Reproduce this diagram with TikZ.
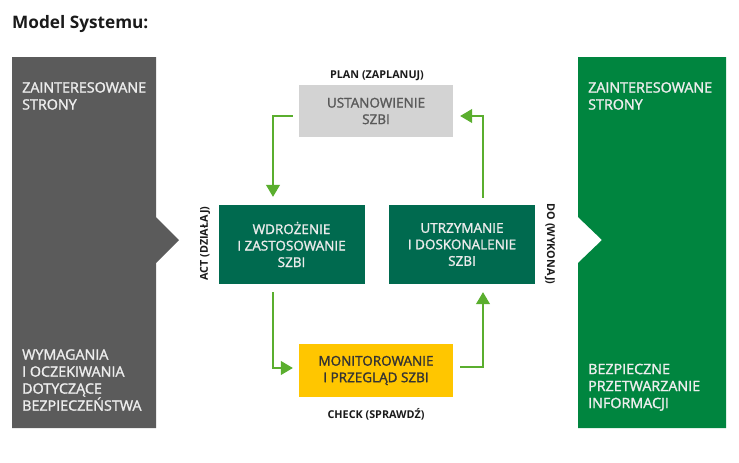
\documentclass[tikz,border=0pt]{standalone}
\usepackage{fontspec}
\setmainfont{Open Sans}
\newfontfamily\semib[FakeBold=1.6]{Open Sans}
\usetikzlibrary{arrows.meta}
\definecolor{panelgray}{HTML}{5B5B5B}
\definecolor{panelgreen}{HTML}{00853F}
\definecolor{boxgreen}{HTML}{006A4F}
\definecolor{boxgray}{HTML}{D3D3D3}
\definecolor{boxyellow}{HTML}{FFC600}
\definecolor{flowgreen}{HTML}{5AAE2E}
\definecolor{titlecol}{HTML}{1A1A1A}
\tikzset{
  paneltext/.style={text=white!93!black, align=left, inner sep=0pt, font=\semib\fontsize{14.3}{17}\selectfont},
  stepbox/.style={minimum width=146pt, minimum height=79pt, inner sep=0pt, align=center, font=\semib\fontsize{13.5}{16.5}\selectfont},
  smalllbl/.style={font=\fontsize{10.8}{12}\selectfont\bfseries, text=titlecol, inner sep=0pt},
  flow/.style={draw=flowgreen, line width=1.2pt, -{Triangle[width=14pt,length=12pt]}}
}
\begin{document}
\begin{tikzpicture}[x=1pt,y=-1pt]
\useasboundingbox (0,0) rectangle (739,463);
% title
\node[anchor=base west, inner sep=0pt, text=titlecol, font=\fontsize{17.2}{20}\selectfont\bfseries] (title) at (12,28) {Model Systemu:};
% side panels
\fill[panelgray] (12,57) -- (156,57) -- (156,217) -- (179,240) -- (156,263) -- (156,428) -- (12,428) -- cycle;
\fill[panelgreen] (578,57) -- (726,57) -- (726,428) -- (578,428) -- (578,263) -- (602,240) -- (578,217) -- cycle;
\node[paneltext, anchor=north west] (lt) at (22,82) {ZAINTERESOWANE\\STRONY};
\node[paneltext, anchor=south west] (lb) at (22,411) {WYMAGANIA\\I OCZEKIWANIA\\DOTYCZĄCE\\BEZPIECZEŃSTWA};
\node[paneltext, anchor=north west] (rt) at (588,82) {ZAINTERESOWANE\\STRONY};
\node[paneltext, anchor=south west] (rb) at (588,411) {BEZPIECZNE\\PRZETWARZANIE\\INFORMACJI};
% step boxes
\node[stepbox, fill=boxgray, text=black!65, minimum width=154pt, minimum height=52pt] (plan) at (376,111) {USTANOWIENIE\\SZBI};
\node[stepbox, fill=boxgreen, text=white!92!black] (act) at (291.5,244.5) {WDROŻENIE\\I ZASTOSOWANIE\\SZBI};
\node[stepbox, fill=boxgreen, text=white!92!black] (do) at (462,244.5) {UTRZYMANIE\\I DOSKONALENIE\\SZBI};
\node[stepbox, fill=boxyellow, text=black!80, minimum width=154pt, minimum height=53pt] (check) at (376,370.5) {MONITOROWANIE\\I PRZEGLĄD SZBI};
% labels
\node[smalllbl, anchor=base] (planlbl) at (377,78) {PLAN (ZAPLANUJ)};
\node[smalllbl, anchor=base] (checklbl) at (376,418) {CHECK (SPRAWDŹ)};
\node[smalllbl, rotate=90] (actlbl) at (205,243.5) {ACT (DZIAŁAJ)};
\node[smalllbl, rotate=-90] (dolbl) at (550,244) {DO (WYKONAJ)};
% connectors
\draw[flow] ([xshift=-6pt,yshift=-5pt]plan.west) -| ([xshift=-18.5pt,yshift=8pt]act.north);
\draw[flow] ([xshift=-18.5pt,yshift=-8pt]act.south) |- ([xshift=-6pt,yshift=2.5pt]check.west);
\draw[flow] ([xshift=7pt,yshift=3.5pt]check.east) -| ([xshift=21pt,yshift=-8pt]do.south);
\draw[flow] ([xshift=21pt,yshift=7pt]do.north) |- ([xshift=7pt,yshift=-5pt]plan.east);
\end{tikzpicture}
\end{document}
